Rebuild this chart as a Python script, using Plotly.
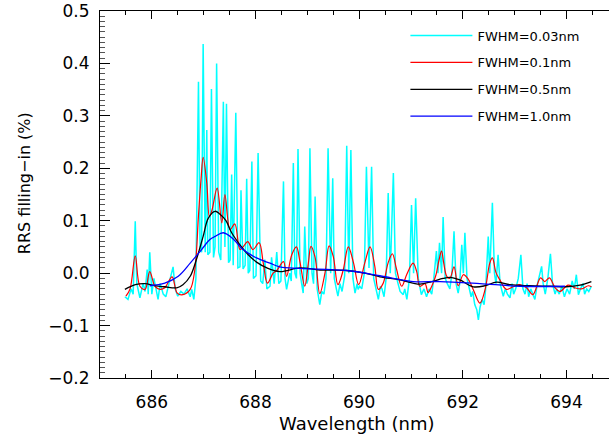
import plotly.graph_objects as go

# ---------------- data ----------------
wl_003 = [685.48, 685.54, 685.60, 685.64, 685.68, 685.71, 685.77, 685.83, 685.87, 685.91,
          685.93, 685.96, 686.00, 686.04, 686.12, 686.16, 686.22, 686.27, 686.33, 686.41,
          686.45, 686.50, 686.56, 686.62, 686.68, 686.74, 686.77, 686.81, 686.85, 686.90,
          686.93, 686.96, 686.99, 687.03, 687.06, 687.08, 687.12, 687.15, 687.19, 687.22,
          687.25, 687.29, 687.33, 687.38, 687.41, 687.44, 687.48, 687.51, 687.54, 687.57,
          687.62, 687.66, 687.70, 687.72, 687.76, 687.80, 687.83, 687.86, 687.89, 687.93,
          687.96, 688.01, 688.05, 688.10, 688.14, 688.18, 688.22, 688.28, 688.31, 688.36,
          688.41, 688.45, 688.49, 688.54, 688.57, 688.60, 688.64, 688.66, 688.69, 688.73,
          688.76, 688.79, 688.82, 688.86, 688.89, 688.92, 688.95, 688.99, 689.02, 689.05,
          689.09, 689.12, 689.15, 689.19, 689.24, 689.28, 689.32, 689.36, 689.40, 689.45,
          689.49, 689.52, 689.56, 689.59, 689.63, 689.67, 689.72, 689.76, 689.80, 689.84,
          689.88, 689.92, 689.96, 689.98, 690.01, 690.05, 690.10, 690.14, 690.19, 690.24,
          690.28, 690.32, 690.37, 690.41, 690.44, 690.48, 690.52, 690.56, 690.60, 690.66,
          690.70, 690.75, 690.79, 690.85, 690.88, 690.92, 690.97, 691.01, 691.05, 691.09,
          691.14, 691.20, 691.25, 691.30, 691.35, 691.40, 691.44, 691.49, 691.52, 691.55,
          691.59, 691.62, 691.66, 691.70, 691.75, 691.79, 691.83, 691.87, 691.91, 691.94,
          691.98, 692.01, 692.04, 692.08, 692.12, 692.16, 692.19, 692.23, 692.27, 692.30,
          692.33, 692.37, 692.41, 692.44, 692.49, 692.52, 692.57, 692.61, 692.64, 692.68,
          692.72, 692.78, 692.82, 692.86, 692.91, 692.95, 692.98, 693.02, 693.07, 693.12,
          693.16, 693.20, 693.24, 693.27, 693.31, 693.35, 693.39, 693.43, 693.47, 693.52,
          693.55, 693.59, 693.64, 693.69, 693.73, 693.78, 693.81, 693.86, 693.91, 693.96,
          694.01, 694.06, 694.11, 694.15, 694.19, 694.23, 694.27, 694.32, 694.35, 694.39,
          694.43, 694.48]
rrs_003 = [-0.045, -0.050, -0.030, -0.040, 0.099, -0.020, -0.047, -0.020, -0.035, 0.007,
           -0.040, 0.040, -0.040, -0.010, -0.050, -0.020, -0.040, -0.045, -0.020, 0.012,
           -0.030, -0.044, -0.035, -0.040, -0.030, -0.045, -0.031, -0.050, -0.010, 0.365,
           0.050, 0.040, 0.437, 0.040, 0.273, 0.035, 0.040, 0.351, 0.030, 0.050,
           0.400, 0.040, 0.025, 0.327, 0.050, 0.323, 0.020, 0.025, 0.188, 0.015,
           0.306, 0.010, 0.012, 0.158, 0.008, 0.015, 0.180, 0.000, 0.005, 0.213,
           -0.010, -0.005, 0.229, -0.015, -0.020, 0.026, -0.030, -0.025, 0.030, -0.020,
           0.040, -0.020, -0.015, 0.175, -0.010, -0.031, -0.010, 0.000, -0.015, 0.210,
           0.000, -0.010, 0.237, 0.000, -0.020, -0.038, 0.089, -0.020, -0.010, 0.238,
           0.000, -0.020, 0.146, -0.030, -0.060, -0.035, -0.040, -0.010, 0.238, 0.000,
           0.181, -0.010, -0.030, -0.044, -0.020, -0.035, -0.005, 0.243, 0.000, 0.235,
           -0.010, -0.038, -0.020, -0.031, -0.025, -0.030, 0.000, 0.203, 0.010, 0.203,
           -0.010, -0.030, -0.050, -0.025, -0.030, -0.045, -0.010, 0.153, 0.000, 0.191,
           0.000, -0.020, -0.035, -0.041, -0.030, -0.050, -0.010, 0.130, 0.000, 0.143,
           -0.010, -0.041, -0.030, -0.045, -0.030, -0.040, -0.010, 0.042, 0.000, 0.058,
           0.000, 0.107, -0.010, -0.020, -0.030, 0.000, 0.080, -0.020, -0.038, -0.020,
           0.054, 0.000, 0.077, -0.010, -0.030, -0.045, -0.035, -0.060, -0.070, -0.089,
           -0.066, -0.050, -0.060, -0.030, 0.070, 0.000, 0.134, 0.000, -0.020, 0.035,
           -0.020, -0.044, -0.030, -0.040, -0.047, -0.020, -0.040, -0.030, -0.010, 0.035,
           -0.030, -0.040, -0.020, -0.045, -0.030, -0.040, -0.050, -0.025, -0.010, 0.013,
           -0.020, -0.040, -0.010, 0.037, -0.020, -0.040, -0.030, -0.040, -0.025, -0.045,
           -0.030, -0.040, -0.015, -0.030, -0.003, -0.041, -0.030, -0.020, -0.040, -0.030,
           -0.035, -0.025]

wl_01 = [685.50, 685.58, 685.68, 685.77, 685.87, 685.96, 686.06, 686.16, 686.25, 686.39,
         686.49, 686.60, 686.74, 686.83, 686.90, 686.95, 686.99, 687.06, 687.11, 687.16,
         687.26, 687.35, 687.41, 687.51, 687.60, 687.70, 687.76, 687.85, 687.95, 688.07,
         688.15, 688.23, 688.34, 688.41, 688.54, 688.60, 688.70, 688.79, 688.86, 688.95,
         689.02, 689.07, 689.15, 689.24, 689.34, 689.42, 689.50, 689.59, 689.69, 689.79,
         689.89, 689.99, 690.11, 690.21, 690.30, 690.37, 690.46, 690.56, 690.64, 690.72,
         690.82, 690.92, 691.04, 691.11, 691.17, 691.27, 691.33, 691.40, 691.48, 691.54,
         691.59, 691.63, 691.69, 691.75, 691.83, 691.91, 692.01, 692.10, 692.20, 692.33,
         692.43, 692.52, 692.57, 692.64, 692.71, 692.84, 692.97, 693.10, 693.23, 693.35,
         693.50, 693.58, 693.67, 693.78, 693.87, 694.03, 694.16, 694.29, 694.42, 694.48]
rrs_01 = [-0.044, -0.030, 0.033, -0.025, -0.031, 0.003, -0.025, -0.031, -0.028, -0.007,
          -0.038, -0.041, -0.031, 0.007, 0.110, 0.180, 0.221, 0.172, 0.108, 0.120,
          0.162, 0.096, 0.150, 0.083, 0.094, 0.045, 0.050, 0.060, 0.045, 0.058,
          0.019, -0.019, 0.000, 0.005, 0.022, -0.006, 0.035, 0.050, 0.020, -0.025,
          0.019, 0.051, 0.030, -0.039, 0.000, 0.052, 0.032, -0.022, 0.005, 0.050,
          0.020, -0.022, 0.020, 0.050, 0.014, -0.031, -0.020, 0.020, 0.037, 0.008,
          -0.025, -0.002, 0.019, 0.003, -0.025, -0.020, -0.037, -0.025, -0.004, 0.025,
          0.042, 0.020, -0.006, -0.010, 0.012, -0.024, -0.003, -0.011, -0.031, -0.057,
          -0.031, 0.019, 0.029, 0.001, -0.012, -0.031, -0.026, -0.022, -0.028, -0.041,
          -0.009, -0.016, -0.009, -0.028, -0.035, -0.023, -0.028, -0.030, -0.024, -0.026]

wl_05 = [685.48, 685.68, 685.87, 686.06, 686.25, 686.48, 686.60, 686.74, 686.86, 686.99,
         687.09, 687.22, 687.31, 687.43, 687.54, 687.70, 687.86, 688.02, 688.22, 688.47,
         688.86, 689.24, 689.76, 690.11, 690.40, 690.79, 691.17, 691.40, 691.62, 691.75,
         691.94, 692.20, 692.43, 692.65, 692.91, 693.29, 693.68, 694.00, 694.26, 694.48]
rrs_05 = [-0.031, -0.022, -0.020, -0.024, -0.026, -0.028, -0.022, -0.006, 0.026, 0.070,
          0.105, 0.118, 0.113, 0.100, 0.077, 0.054, 0.035, 0.021, 0.010, 0.003,
          0.010, 0.006, 0.005, 0.000, -0.007, -0.013, -0.021, -0.016, -0.010, -0.008,
          -0.013, -0.026, -0.024, -0.017, -0.022, -0.024, -0.025, -0.026, -0.023, -0.016]

wl_10 = [685.96, 686.25, 686.51, 686.74, 686.96, 687.12, 687.22, 687.38, 687.57, 687.76,
         688.02, 688.28, 688.47, 688.86, 689.76, 690.40, 691.04, 691.56, 692.33, 693.10, 693.97]
rrs_10 = [-0.024, -0.019, -0.006, 0.019, 0.045, 0.064, 0.070, 0.077, 0.065, 0.045,
          0.029, 0.019, 0.012, 0.009, 0.005, -0.005, -0.016, -0.016, -0.020, -0.025, -0.025]

series_names = ["FWHM=0.03nm", "FWHM=0.1nm", "FWHM=0.5nm", "FWHM=1.0nm"]

x_tick_vals = [686, 688, 690, 692, 694]
y_tick_vals = [-0.2, -0.1, 0.0, 0.1, 0.2, 0.3, 0.4, 0.5]

# ---------------- figure ----------------
FONT = "DejaVu Sans"
fig = go.Figure()

fig.add_trace(go.Scatter(x=wl_003, y=rrs_003, mode="lines", name=series_names[0],
                         legendgroup="a", line=dict(color="#00FFFF", width=1.5)))
fig.add_trace(go.Scatter(x=wl_01, y=rrs_01, mode="lines", name=series_names[1],
                         legendgroup="b", line=dict(color="#FF0000", width=1.2, shape="spline", smoothing=1.0)))
fig.add_trace(go.Scatter(x=wl_05, y=rrs_05, mode="lines", name=series_names[2],
                         legendgroup="c", line=dict(color="#000000", width=1.3, shape="spline", smoothing=1.0)))
fig.add_trace(go.Scatter(x=wl_10, y=rrs_10, mode="lines", name=series_names[3],
                         legendgroup="d", line=dict(color="#0000FF", width=1.3, shape="spline", smoothing=1.0)))

fig.update_layout(
    width=609, height=436,
    margin=dict(l=100, r=0, t=11, b=58),
    paper_bgcolor="white", plot_bgcolor="white",
    font=dict(family=FONT, size=17, color="black"),
    showlegend=True,
    legend=dict(x=0.6, y=0.974, xanchor="left", yanchor="top",
                bgcolor="rgba(0,0,0,0)", borderwidth=0,
                font=dict(family=FONT, size=13, color="black"),
                tracegroupgap=7, itemwidth=62),
    xaxis=dict(range=[685, 694.82], tickvals=x_tick_vals, ticks="inside", ticklen=8,
               tickwidth=1, tickcolor="black", showline=True, linecolor="black", linewidth=1,
               mirror="ticks", showgrid=False, zeroline=False,
               ticklabelstandoff=9,
               minor=dict(dtick=0.5, tick0=685, ticks="inside", ticklen=4, tickcolor="black", showgrid=False)),
    yaxis=dict(range=[-0.2, 0.5], tickvals=y_tick_vals, tickformat=".1f", ticks="inside", ticklen=10,
               tickwidth=1, tickcolor="black", showline=True, linecolor="black", linewidth=1,
               mirror=False, showgrid=False, zeroline=False,
               ticklabelstandoff=6,
               minor=dict(dtick=0.01, tick0=0, ticks="inside", ticklen=5, tickcolor="#555555", showgrid=False)),
    annotations=[
        dict(text="Wavelength (nm)", xref="paper", yref="paper", x=0.505, y=-0.125,
             xanchor="center", yanchor="middle", showarrow=False, font=dict(family=FONT, size=18)),
        dict(text="RRS filling\u2212in (%)", xref="paper", yref="paper", x=-0.148, y=0.53,
             xanchor="center", yanchor="middle", textangle=-90, showarrow=False,
             font=dict(family=FONT, size=16)),
    ],
)

fig.write_html("out.html")
